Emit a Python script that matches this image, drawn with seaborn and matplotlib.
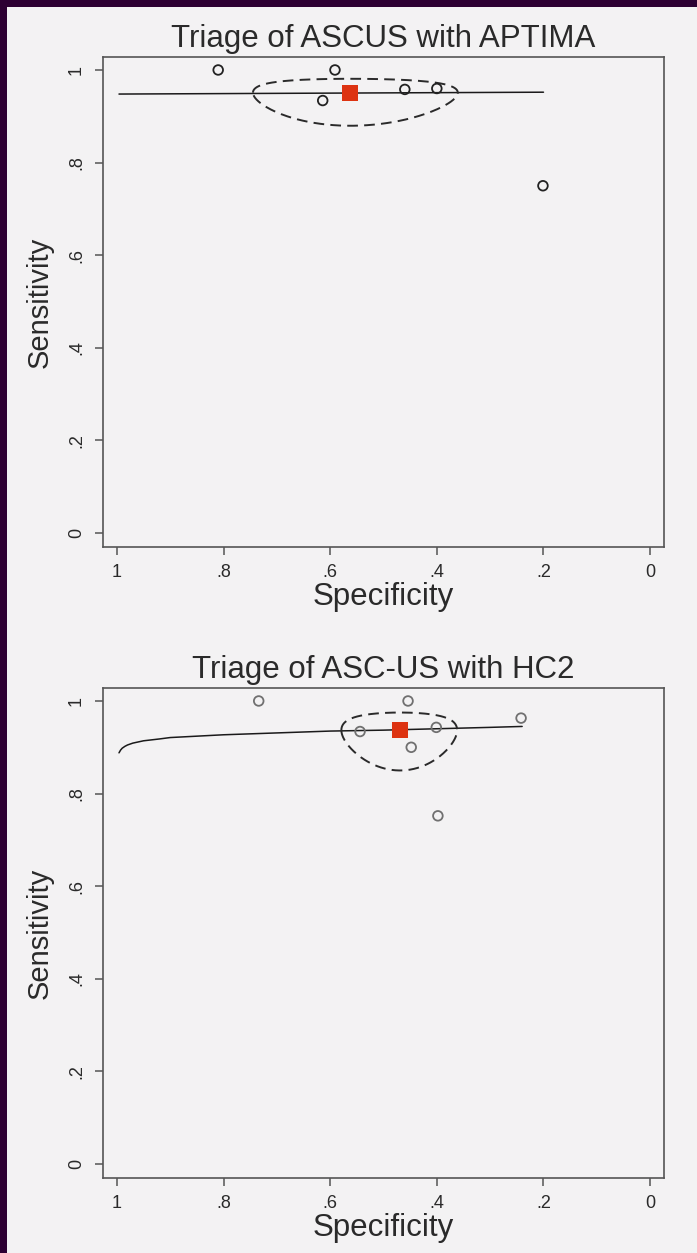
import numpy as np
import pandas as pd
import matplotlib
matplotlib.use("Agg")
import matplotlib.pyplot as plt
from matplotlib.patches import Rectangle
import seaborn as sns

# ---------------- data ----------------
titles = ["Triage of ASCUS with APTIMA", "Triage of ASC-US with HC2"]

# panel 1: APTIMA
apt_spec = [0.810, 0.591, 0.614, 0.460, 0.400, 0.201]
apt_sens = [1.000, 1.000, 0.934, 0.958, 0.960, 0.750]
apt_sum_spec = 0.562
apt_sum_sens = 0.951
apt_ci_spec = (0.361, 0.745)
apt_ci_sens = (0.874, 0.980)
apt_curve_spec = [0.996, 0.600, 0.200]
apt_curve_sens = [0.948, 0.950, 0.952]

# panel 2: HC2
hc2_spec = [0.734, 0.454, 0.544, 0.401, 0.448, 0.242, 0.398]
hc2_sens = [1.000, 1.000, 0.934, 0.943, 0.900, 0.963, 0.752]
hc2_sum_spec = 0.469
hc2_sum_sens = 0.937
hc2_ci_spec = (0.360, 0.577)
hc2_ci_sens = (0.855, 0.976)
hc2_curve_spec = [0.996, 0.993, 0.990, 0.985, 0.980, 0.970, 0.950, 0.920, 0.900,
                  0.850, 0.800, 0.700, 0.600, 0.500, 0.400, 0.300, 0.240]
hc2_curve_sens = [0.888, 0.894, 0.898, 0.902, 0.905, 0.909, 0.914, 0.918, 0.921,
                  0.924, 0.927, 0.931, 0.935, 0.937, 0.940, 0.943, 0.945]

x_ticks = [1, 0.8, 0.6, 0.4, 0.2, 0]
x_ticklabels = ["1", ".8", ".6", ".4", ".2", "0"]
y_ticks = [0, 0.2, 0.4, 0.6, 0.8, 1]
y_ticklabels = ["0", ".2", ".4", ".6", ".8", "1"]

# ---------------- style ----------------
BG = "#f3f2f3"
TXT = "#2a2a2a"
sns.set_theme(style="white")
plt.rcParams["font.family"] = ["Liberation Sans", "DejaVu Sans"]
plt.rcParams["axes.facecolor"] = BG
plt.rcParams["figure.facecolor"] = BG

fig = plt.figure(figsize=(6.97, 12.53), dpi=100)
W, H = 697, 1253

def logit(p):
    p = np.asarray(p, dtype=float)
    return np.log(p / (1 - p))

def expit(z):
    return 1 / (1 + np.exp(-z))

panels = [
    dict(top=57, bottom=547, spec=apt_spec, sens=apt_sens, sspec=apt_sum_spec, ssens=apt_sum_sens,
         cispec=apt_ci_spec, cisens=apt_ci_sens, cx=apt_curve_spec, cy=apt_curve_sens, pt="#222222"),
    dict(top=688, bottom=1178, spec=hc2_spec, sens=hc2_sens, sspec=hc2_sum_spec, ssens=hc2_sum_sens,
         cispec=hc2_ci_spec, cisens=hc2_ci_sens, cx=hc2_curve_spec, cy=hc2_curve_sens, pt="#707070"),
]

left, right = 103, 664
for i, p in enumerate(panels):
    ax = fig.add_axes([left / W, 1 - p["bottom"] / H, (right - left) / W, (p["bottom"] - p["top"]) / H])
    ax.set_facecolor(BG)

    # SROC curve
    cdf = pd.DataFrame({"spec": p["cx"], "sens": p["cy"]})
    sns.lineplot(data=cdf, x="spec", y="sens", ax=ax, color="#1a1a1a", lw=1.1, sort=False,
                 estimator=None, zorder=2)

    # confidence region (ellipse in logit space)
    lx = logit([p["sspec"]])[0]
    ly = logit([p["ssens"]])[0]
    ax_x = (logit([p["cispec"][1]])[0] - logit([p["cispec"][0]])[0]) / 2
    ax_y = (logit([p["cisens"][1]])[0] - logit([p["cisens"][0]])[0]) / 2
    t = np.linspace(0, 2 * np.pi, 300)
    ex = expit(lx + ax_x * np.cos(t))
    ey = expit(ly + ax_y * np.sin(t))
    ax.plot(ex, ey, color="#2a2a2a", lw=1.4, dashes=(5.5, 3.2), zorder=2)

    # studies
    sdf = pd.DataFrame({"spec": p["spec"], "sens": p["sens"]})
    sns.scatterplot(data=sdf, x="spec", y="sens", ax=ax, marker="o", s=48,
                    facecolors="none", edgecolor=p["pt"], linewidth=1.3, zorder=3)
    # summary point
    mdf = pd.DataFrame({"spec": [p["sspec"]], "sens": [p["ssens"]]})
    sns.scatterplot(data=mdf, x="spec", y="sens", ax=ax, marker="s", s=135,
                    color="#dd3311", edgecolor="#dd3311", linewidth=0, zorder=4)

    ax.set_xlim(1.026, -0.026)
    ax.set_ylim(-0.030, 1.028)
    ax.set_xticks(x_ticks)
    ax.set_xticklabels(x_ticklabels)
    ax.set_yticks(y_ticks)
    ax.set_yticklabels(y_ticklabels, rotation=90, va="center")
    ax.tick_params(axis="both", length=6, width=1.1, color="#555555", labelsize=13,
                   labelcolor=TXT, left=True, bottom=True, direction="out")
    ax.tick_params(axis="x", pad=6)
    ax.tick_params(axis="y", pad=7)
    for s in ax.spines.values():
        s.set_color("#555555")
        s.set_linewidth(1.2)
        s.set_visible(True)

    ax.set_title(titles[i], fontsize=22.5, color=TXT, pad=7)
    ax.set_xlabel("Specificity", fontsize=22.5, color=TXT)
    ax.set_ylabel("Sensitivity", fontsize=21, color=TXT)
    ax.xaxis.set_label_coords(0.5, -0.072)
    ax.yaxis.set_label_coords(-0.088, 0.5)
    ax.grid(False)

# dark frame on top and left
fig.add_artist(Rectangle((0, 1 - 7 / H), 1, 7 / H, transform=fig.transFigure,
                         color="#2d0033", lw=0, zorder=10))
fig.add_artist(Rectangle((0, 0), 7 / W, 1, transform=fig.transFigure,
                         color="#2d0033", lw=0, zorder=10))

fig.savefig("out.png", dpi=100, facecolor=BG)
